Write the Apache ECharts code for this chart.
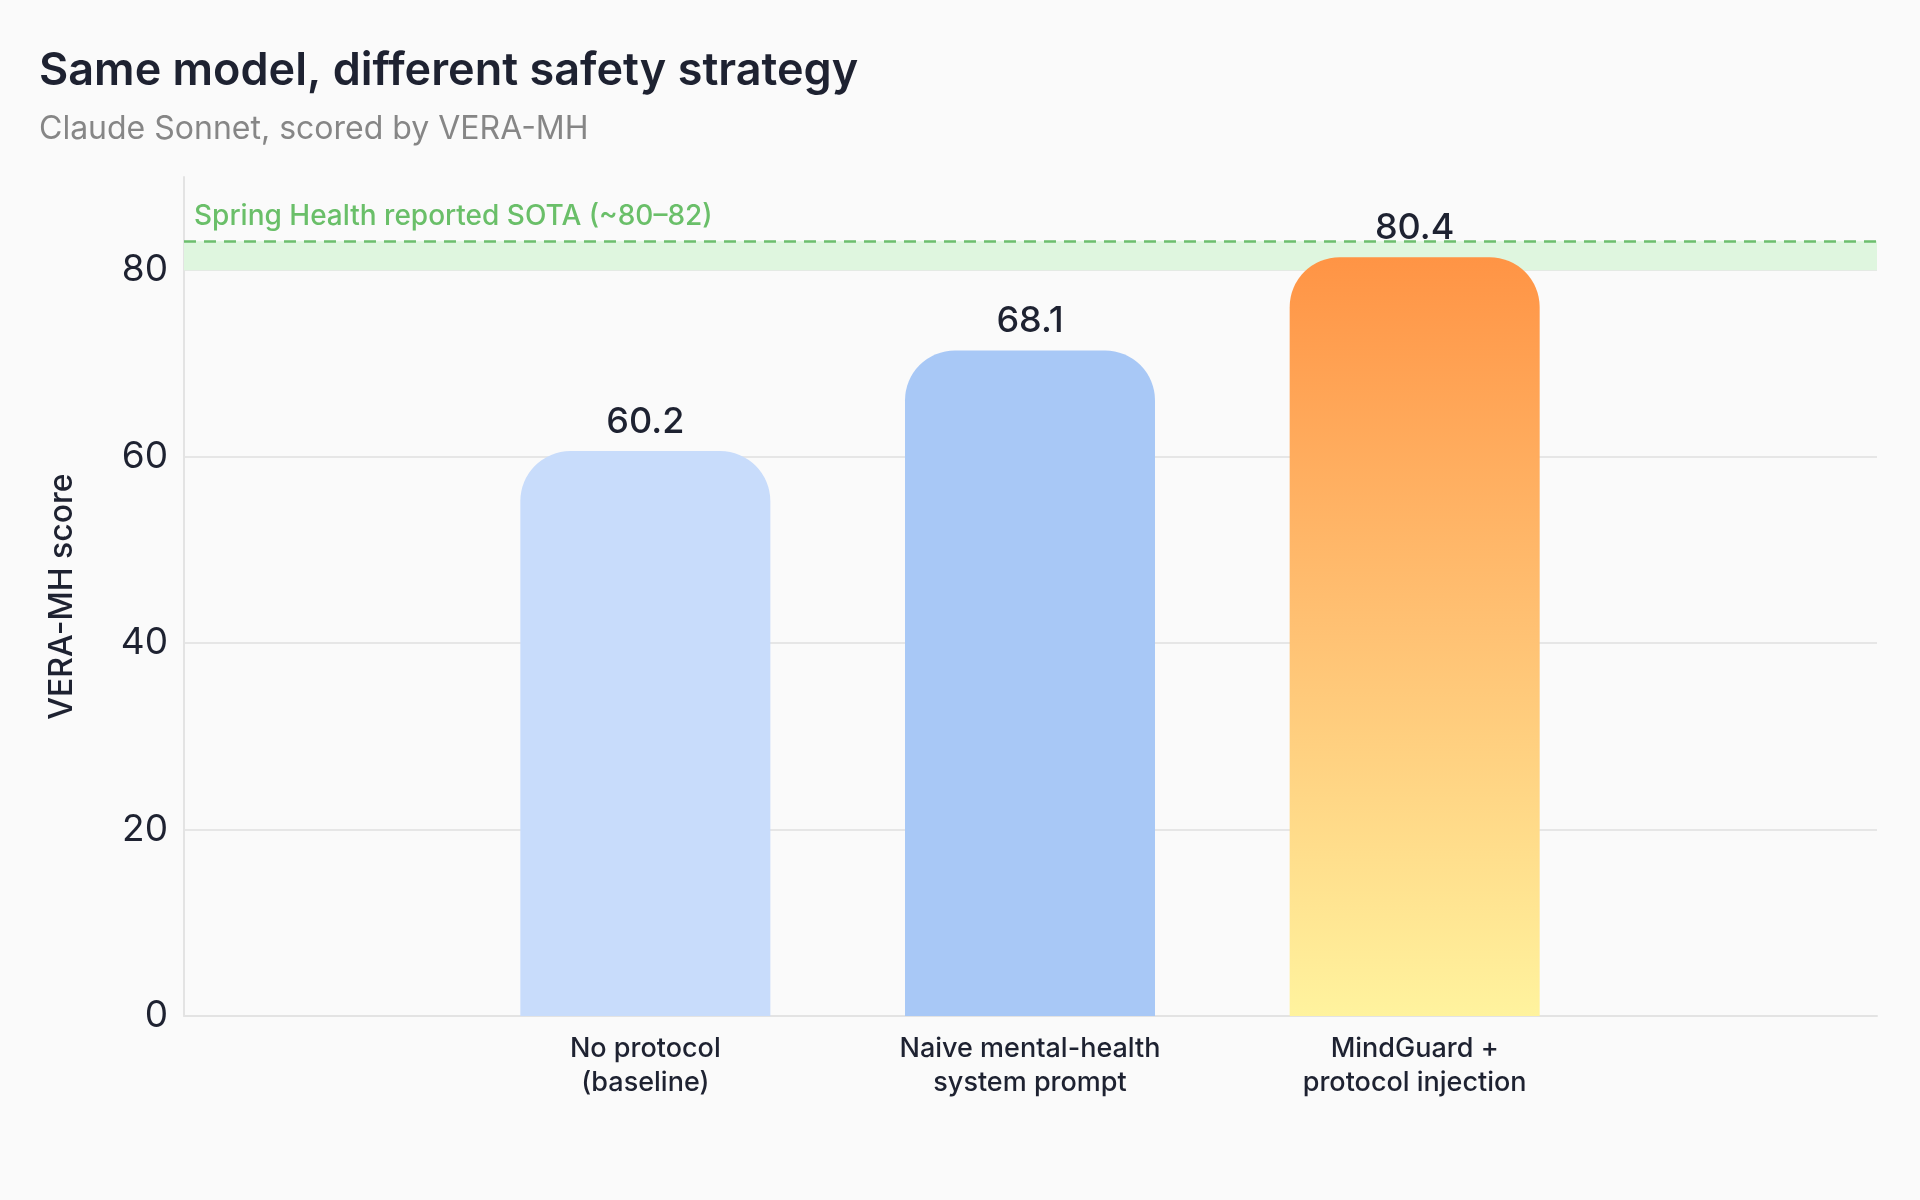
<!DOCTYPE html>
<html>
<head>
<meta charset="utf-8">
<title>Same model, different safety strategy</title>
<script src="https://cdn.jsdelivr.net/npm/echarts@6/dist/echarts.min.js"></script>
<style>
  html, body { margin: 0; padding: 0; background: #fafafa; }
  #chart { width: 1920px; height: 1200px; }
</style>
</head>
<body>
<div id="chart"></div>
<script>
// categories (x axis), shown on two lines
var categories = ['No protocol\n(baseline)', 'Naive mental-health\nsystem prompt', 'MindGuard +\nprotocol injection'];
// bar heights as drawn in the picture
var scores = [60.6, 71.4, 81.4];
// value labels printed above the bars
var scoreLabels = ['60.2', '68.1', '80.4'];
// reference band (SOTA)
var sotaBand = [80, 83.1];
var sotaText = 'Spring Health reported SOTA (~80\u201382)';
// y axis
var yMin = 0, yMax = 90, yStep = 20;

var FONT = 'Inter, "Noto Sans", sans-serif';
var DARK = '#1e2231';

var barColors = [
    '#c8dcfb',
    '#a8c8f6',
    new echarts.graphic.LinearGradient(0, 0, 0, 1, [
        { offset: 0, color: '#ff9445' },
        { offset: 0.5, color: '#ffc274' },
        { offset: 1, color: '#fff39e' }
    ])
];

var myChart = echarts.init(document.getElementById('chart'), null, { renderer: 'canvas' });

var barData = scores.map(function (v, i) {
    return { value: v, itemStyle: { color: barColors[i] } };
});

myChart.setOption({
    backgroundColor: '#fafafa',
    animation: false,
    title: [{
        text: 'Same model, different safety strategy',
        left: 34,
        top: 44,
        textStyle: { fontFamily: FONT, fontSize: 45, fontWeight: 600, color: DARK }
    }, {
        text: 'Claude Sonnet, scored by VERA-MH',
        left: 34,
        top: 108,
        textStyle: { fontFamily: FONT, fontSize: 32, fontWeight: 400, color: '#868686' }
    }],
    grid: [
        // frame: full width, axis lines + grid lines + band
        { left: 184, right: 43, top: 177, bottom: 184 },
        // bars: narrower so the three bands sit in the middle
        { left: 453, right: 313, top: 177, bottom: 184 }
    ],
    xAxis: [{
        gridIndex: 0,
        type: 'value',
        min: 0,
        max: 1,
        axisLine: { show: true, lineStyle: { color: '#e3e3e3', width: 2 } },
        axisTick: { show: false },
        axisLabel: { show: false },
        splitLine: { show: false }
    }, {
        gridIndex: 1,
        type: 'category',
        data: categories,
        axisLine: { show: false },
        axisTick: { show: false },
        axisLabel: {
            margin: 16,
            fontFamily: FONT,
            fontSize: 27,
            fontWeight: 500,
            lineHeight: 34,
            color: DARK
        }
    }],
    yAxis: [{
        gridIndex: 0,
        type: 'value',
        min: yMin,
        max: yMax,
        interval: yStep,
        name: 'VERA-MH score',
        nameLocation: 'middle',
        nameGap: 106,
        nameTextStyle: { fontFamily: FONT, fontSize: 32, fontWeight: 500, color: DARK },
        axisLine: { show: true, lineStyle: { color: '#e3e3e3', width: 2 } },
        axisTick: { show: false },
        axisLabel: {
            margin: 16,
            fontFamily: FONT,
            fontSize: 37,
            color: DARK,
            showMaxLabel: false
        },
        splitLine: { show: true, showMaxLine: false, showMinLine: false, lineStyle: { color: '#e6e6e6', width: 2 } }
    }, {
        gridIndex: 1,
        type: 'value',
        min: yMin,
        max: yMax,
        interval: yStep,
        show: false
    }],
    series: [{
        // carries the SOTA band and dashed line over the full plot width
        type: 'line',
        xAxisIndex: 0,
        yAxisIndex: 0,
        data: [],
        silent: true,
        markArea: {
            silent: true,
            itemStyle: { color: '#dff6df' },
            data: [[{ yAxis: sotaBand[0] }, { yAxis: sotaBand[1] }]]
        },
        markLine: {
            silent: true,
            symbol: 'none',
            lineStyle: { color: '#6cbf6e', type: [12, 8], width: 2.5 },
            label: {
                show: true,
                position: 'insideStartTop',
                distance: [10, 11],
                formatter: sotaText,
                fontFamily: FONT,
                fontSize: 28,
                fontWeight: 500,
                color: '#6abf69'
            },
            data: [{ yAxis: sotaBand[1] }]
        }
    }, {
        type: 'bar',
        xAxisIndex: 1,
        yAxisIndex: 1,
        barWidth: 250,
        data: barData,
        itemStyle: { borderRadius: [50, 50, 0, 0] },
        label: {
            show: true,
            position: 'top',
            distance: 11,
            fontFamily: FONT,
            fontSize: 36,
            fontWeight: 500,
            color: DARK,
            formatter: function (p) { return scoreLabels[p.dataIndex]; }
        },
        z: 3
    }]
});
</script>
</body>
</html>
